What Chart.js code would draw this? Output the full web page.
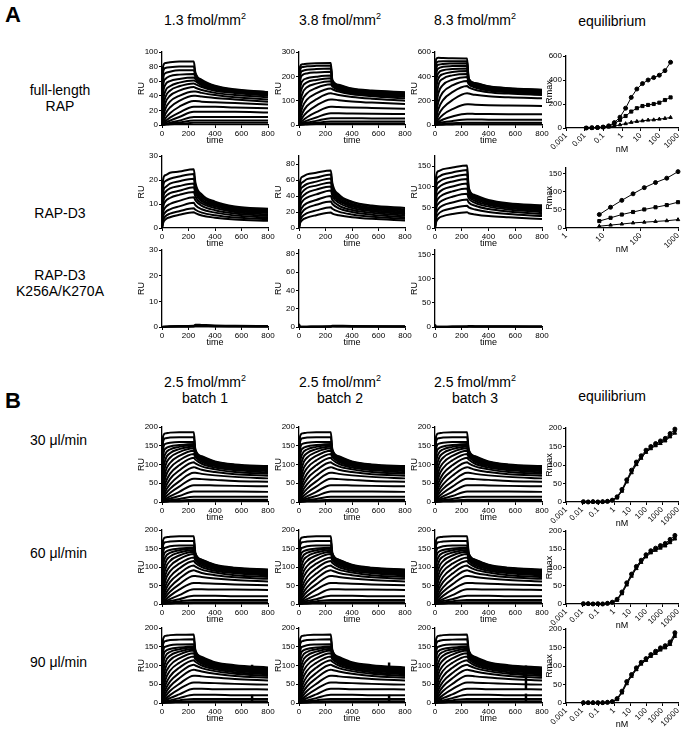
<!DOCTYPE html>
<html>
<head>
<meta charset="utf-8">
<script src="https://cdn.jsdelivr.net/npm/chart.js@4.4.1/dist/chart.umd.min.js"></script>
<style>
body{margin:0;width:683px;height:729px;background:#fff;position:relative;overflow:hidden;font-family:"Liberation Sans",Arial,sans-serif;color:#000}
.t{position:absolute;white-space:nowrap;font-size:14px;line-height:16px;text-align:center;width:140px}
.l{position:absolute;white-space:nowrap;font-size:14px;line-height:16px}
.big{position:absolute;font-size:22px;font-weight:bold}
sup{font-size:9px;line-height:0;vertical-align:6px}
canvas{position:absolute}
</style>
</head>
<body>
<div class="big" style="left:5px;top:2px">A</div>
<div class="t" style="left:135px;top:12px">1.3 fmol/mm<sup>2</sup></div>
<div class="t" style="left:270px;top:12px">3.8 fmol/mm<sup>2</sup></div>
<div class="t" style="left:405px;top:12px">8.3 fmol/mm<sup>2</sup></div>
<div class="t" style="left:542px;top:13px">equilibrium</div>
<div class="t" style="left:-10px;top:82px">full-length<br>RAP</div>
<div class="t" style="left:-10px;top:205px">RAP-D3</div>
<div class="t" style="left:-10px;top:267px">RAP-D3<br>K256A/K270A</div>

<div class="big" style="left:5px;top:388px">B</div>
<div class="t" style="left:135px;top:374px">2.5 fmol/mm<sup>2</sup><br>batch 1</div>
<div class="t" style="left:270px;top:374px">2.5 fmol/mm<sup>2</sup><br>batch 2</div>
<div class="t" style="left:405px;top:374px">2.5 fmol/mm<sup>2</sup><br>batch 3</div>
<div class="t" style="left:542px;top:388px">equilibrium</div>
<div class="l" style="left:30px;top:432px">30 μl/min</div>
<div class="l" style="left:30px;top:545px">60 μl/min</div>
<div class="l" style="left:30px;top:654px">90 μl/min</div>

<script>
// sampling times of every sensorgram curve (s)
const TIME = [0, 8, 25, 60, 130, 240, 252, 300, 400, 550, 800];
const TIME_TICKS = [0, 200, 400, 600, 800];

// A, full-length RAP
const A1_13 = [
  [0, 80, 85, 86, 87, 87, 72, 62, 54, 49, 45],
  [0, 72, 78, 79, 80, 80, 70, 61, 53, 48, 45],
  [0, 62, 71, 73, 75, 75, 68, 60, 52, 48, 44],
  [0, 52, 63, 67, 69, 70, 66, 58, 51, 47, 43],
  [0, 40, 55, 60, 63, 65, 63, 56, 50, 46, 42],
  [0, 30, 46, 53, 58, 61, 60, 54, 49, 45, 41],
  [0, 22, 38, 47, 53, 57, 56, 52, 47, 44, 40],
  [0, 15, 30, 40, 47, 52, 51, 48, 44, 41, 38],
  [0, 10, 22, 32, 40, 46, 46, 44, 41, 38, 35],
  [0, 6, 15, 24, 33, 40, 40, 39, 37, 35, 32],
  [0, 3, 9, 16, 25, 33, 33, 32, 31, 30, 28],
  [0, 2, 5, 10, 17, 25, 25, 25, 25, 24, 23],
  [0, 1, 3, 6, 11, 18, 18, 18, 18, 18, 17],
  [0, 0.5, 1.5, 3, 6, 11, 11, 11, 11, 11, 11],
  [0, 0.3, 1, 2, 3.5, 6, 6, 6, 6, 6, 6],
  [0, 0.2, 0.5, 1, 1.5, 3, 3, 3, 3, 3, 3]
];
const A1_38 = [
  [0, 240, 250, 252, 254, 255, 185, 165, 150, 142, 135],
  [0, 225, 238, 241, 243, 244, 182, 163, 148, 140, 133],
  [0, 200, 222, 227, 230, 232, 178, 160, 146, 138, 131],
  [0, 175, 205, 212, 216, 219, 174, 157, 144, 136, 129],
  [0, 140, 180, 192, 198, 203, 170, 154, 141, 133, 126],
  [0, 110, 155, 175, 185, 192, 167, 151, 138, 130, 123],
  [0, 80, 128, 155, 170, 180, 163, 148, 135, 127, 120],
  [0, 55, 100, 130, 152, 167, 158, 144, 131, 123, 116],
  [0, 35, 72, 104, 130, 150, 147, 137, 126, 118, 110],
  [0, 20, 48, 78, 105, 130, 129, 123, 115, 108, 100],
  [0, 12, 30, 52, 80, 105, 105, 102, 97, 92, 86],
  [0, 7, 17, 32, 53, 75, 75, 74, 72, 70, 67],
  [0, 4, 10, 18, 31, 48, 48, 48, 47, 46, 45],
  [0, 2, 5, 10, 17, 28, 28, 28, 28, 27, 27],
  [0, 1, 3, 5, 9, 14, 14, 14, 14, 14, 14],
  [0, 0.5, 1, 2, 4, 6, 6, 6, 6, 6, 6]
];
const A1_83 = [
  [0, 540, 552, 550, 548, 546, 380, 345, 318, 302, 290],
  [0, 500, 522, 524, 525, 525, 376, 342, 316, 300, 288],
  [0, 450, 495, 502, 505, 507, 372, 339, 313, 298, 285],
  [0, 400, 465, 478, 484, 487, 368, 336, 310, 295, 282],
  [0, 330, 425, 450, 460, 465, 363, 332, 306, 291, 278],
  [0, 260, 380, 418, 436, 443, 358, 328, 302, 287, 274],
  [0, 190, 325, 380, 408, 420, 352, 323, 298, 283, 270],
  [0, 130, 260, 330, 372, 395, 345, 317, 292, 277, 264],
  [0, 85, 190, 270, 325, 362, 335, 308, 284, 270, 257],
  [0, 50, 130, 205, 270, 320, 310, 290, 270, 258, 246],
  [0, 28, 80, 140, 205, 260, 258, 248, 236, 228, 220],
  [0, 15, 45, 85, 130, 170, 170, 167, 163, 160, 156],
  [0, 8, 24, 45, 70, 92, 92, 91, 90, 89, 88],
  [0, 4, 12, 22, 33, 45, 45, 45, 44, 44, 44],
  [0, 2, 5, 9, 14, 18, 18, 18, 18, 18, 18],
  [0, 1, 2, 3, 5, 7, 7, 7, 7, 7, 7]
];

// A, RAP-D3
const A2_13 = [
  [0, 20, 22, 23, 23.5, 24.5, 19, 14, 11, 9, 8],
  [0, 17, 19.5, 20.5, 21.5, 22.5, 17.5, 13.5, 10.5, 8.5, 7.5],
  [0, 14.5, 17, 18.5, 19.5, 20.5, 16.5, 12.8, 10, 8, 7],
  [0, 12, 15, 16.5, 17.5, 18.5, 15.5, 12, 9.5, 7.6, 6.6],
  [0, 10, 13, 14.5, 15.5, 17, 14.5, 11.2, 9, 7.2, 6.2],
  [0, 8, 11, 12.5, 13.8, 15, 13, 10.3, 8.3, 6.7, 5.6],
  [0, 6, 8.5, 10, 11.3, 12.8, 11.5, 9.2, 7.4, 6, 5],
  [0, 4.5, 6.5, 7.8, 9, 10.5, 9.5, 7.8, 6.4, 5.2, 4.4],
  [0, 3, 4.8, 6, 7, 8.2, 7.6, 6.4, 5.3, 4.4, 3.7],
  [0, 2, 3.5, 4.5, 5.5, 6.6, 6.2, 5.2, 4.3, 3.5, 3]
];
const A2_38 = [
  [0, 58, 64, 67, 69, 72, 56, 42, 33, 28, 25],
  [0, 50, 57, 61, 63, 67, 53, 40, 32, 27, 23.5],
  [0, 43, 51, 55, 58, 62, 50, 38, 30, 25.5, 22],
  [0, 36, 45, 50, 53, 57, 47, 36, 28.5, 24, 20.5],
  [0, 30, 39, 44, 48, 52, 44, 34, 27, 22.5, 19],
  [0, 24, 33, 38, 42, 47, 40, 31.5, 25, 21, 17.5],
  [0, 18, 26, 31, 35, 40, 35, 28, 22.5, 19, 15.5],
  [0, 13, 20, 25, 29, 33, 30, 24.5, 20, 16.5, 13.5],
  [0, 9, 14.5, 18.5, 22, 26, 24, 20.5, 17, 14, 11.5],
  [0, 6, 10, 13, 16, 19.5, 18, 16, 13.5, 11.5, 9.5]
];
const A2_83 = [
  [0, 125, 138, 143, 147, 152, 98, 80, 68, 60, 55],
  [0, 110, 124, 130, 135, 141, 95, 78, 66, 58, 52],
  [0, 96, 111, 118, 124, 130, 92, 76, 64, 56, 50],
  [0, 82, 98, 106, 113, 119, 89, 73, 62, 54, 47.5],
  [0, 68, 85, 94, 101, 108, 85, 70, 59, 51, 45],
  [0, 55, 72, 81, 89, 96, 80, 66, 56, 48.5, 42],
  [0, 43, 59, 68, 76, 83, 72, 61, 52, 45, 38.5],
  [0, 32, 46, 55, 62, 69, 62, 54, 46, 40, 34],
  [0, 22, 34, 42, 48, 54, 50, 45, 39, 34, 29],
  [0, 14, 23, 29, 34, 38, 36, 33, 29, 26, 22]
];

// A, RAP-D3 K256A/K270A (no binding)
const A3_13 = [
  [0, 0.1, 0.2, 0.3, 0.4, 0.5, 0.9, 0.8, 0.6, 0.5, 0.4],
  [0, 0.1, 0.1, 0.2, 0.3, 0.3, 0.6, 0.5, 0.4, 0.3, 0.3],
  [0, 0, 0, 0.1, 0.1, 0.2, 0.3, 0.3, 0.2, 0.2, 0.1]
];
const A3_38 = [
  [3.5, 0.5, 0.3, 0.4, 0.6, 0.8, 1.4, 1.3, 1.1, 0.9, 0.8],
  [2, 0.3, 0.2, 0.3, 0.4, 0.5, 1, 0.9, 0.8, 0.7, 0.6],
  [0, 0.1, 0.1, 0.1, 0.2, 0.3, 0.5, 0.5, 0.4, 0.4, 0.3]
];
const A3_83 = [
  [5, 1, 0.5, 0.6, 0.9, 1.2, 2, 1.8, 1.5, 1.3, 1.1],
  [3, 0.6, 0.4, 0.4, 0.6, 0.8, 1.4, 1.2, 1, 0.9, 0.8],
  [0, 0.2, 0.2, 0.2, 0.3, 0.4, 0.7, 0.6, 0.5, 0.5, 0.4]
];

// B, 2.5 fmol/mm2, three flow rates (batches look alike)
const B_30 = [
  [0, 175, 183, 185, 186, 186, 140, 122, 108, 100, 96],
  [0, 160, 170, 172, 173, 173, 138, 121, 107, 99, 95],
  [0, 140, 155, 158, 160, 160, 136, 119, 106, 98, 94],
  [0, 118, 142, 148, 152, 155, 134, 118, 105, 97, 92],
  [0, 95, 128, 140, 147, 152, 132, 116, 104, 96, 91],
  [0, 75, 112, 130, 141, 148, 130, 115, 103, 95, 89],
  [0, 58, 96, 118, 133, 143, 128, 113, 101, 93, 87],
  [0, 44, 80, 104, 123, 137, 125, 111, 99, 91, 85],
  [0, 33, 65, 90, 111, 128, 120, 107, 96, 88, 82],
  [0, 24, 50, 75, 98, 118, 113, 102, 92, 85, 79],
  [0, 17, 38, 61, 84, 106, 103, 95, 87, 80, 75],
  [0, 12, 28, 47, 70, 93, 92, 86, 80, 74, 70],
  [0, 8, 20, 35, 55, 78, 78, 75, 71, 67, 63],
  [0, 5, 13, 24, 41, 62, 62, 61, 59, 56, 54],
  [0, 3, 8, 15, 27, 45, 45, 45, 44, 43, 42],
  [0, 2, 5, 9, 16, 28, 28, 28, 28, 28, 27],
  [0, 1, 2.5, 5, 8, 14, 14, 14, 14, 14, 14],
  [0, 0.5, 1.2, 2.5, 4, 6, 6, 6, 6, 6, 6],
  [0, 0.2, 0.5, 1, 1.5, 2.5, 2.5, 2.5, 2.5, 2.5, 2.5]
];
const B_60 = [
  [0, 172, 180, 182, 183, 183, 138, 120, 106, 98, 93],
  [0, 158, 167, 169, 170, 170, 136, 119, 105, 97, 92],
  [0, 138, 152, 156, 158, 158, 134, 117, 104, 96, 91],
  [0, 116, 140, 146, 150, 152, 132, 116, 103, 95, 90],
  [0, 93, 126, 138, 145, 150, 130, 114, 102, 94, 88],
  [0, 73, 110, 128, 139, 146, 128, 113, 101, 93, 87],
  [0, 56, 94, 116, 131, 141, 126, 111, 99, 91, 85],
  [0, 42, 78, 102, 121, 135, 123, 109, 97, 89, 83],
  [0, 31, 63, 88, 109, 126, 118, 105, 94, 86, 80],
  [0, 22, 48, 73, 96, 116, 111, 100, 90, 83, 77],
  [0, 15, 36, 59, 82, 104, 101, 93, 85, 78, 73],
  [0, 10, 26, 45, 68, 91, 90, 84, 78, 72, 68],
  [0, 7, 18, 33, 53, 76, 76, 73, 69, 65, 61],
  [0, 4, 11, 22, 39, 57, 57, 56, 55, 53, 51],
  [0, 3, 7, 13, 24, 40, 40, 40, 39, 39, 38],
  [0, 1.5, 4, 8, 13, 22, 22, 22, 22, 21, 21],
  [0, 1, 2, 4, 7, 11, 11, 11, 11, 11, 11],
  [0, 0.5, 1, 2, 3, 5, 5, 5, 5, 5, 5],
  [0, 0.2, 0.4, 0.8, 1.2, 2, 2, 2, 2, 2, 2]
];
const B_90 = [
  [0, 170, 179, 181, 182, 183, 141, 123, 109, 101, 95],
  [0, 156, 165, 168, 169, 170, 139, 121, 107, 99, 93],
  [0, 136, 150, 154, 156, 157, 137, 119, 106, 98, 92],
  [0, 114, 138, 144, 148, 151, 135, 118, 105, 97, 90],
  [0, 92, 124, 136, 143, 149, 133, 116, 103, 95, 88],
  [0, 72, 108, 126, 137, 145, 130, 114, 101, 93, 86],
  [0, 55, 92, 114, 129, 140, 127, 112, 99, 91, 84],
  [0, 41, 76, 100, 119, 133, 123, 109, 97, 89, 82],
  [0, 30, 61, 86, 107, 124, 117, 105, 94, 86, 79],
  [0, 21, 47, 71, 94, 114, 110, 100, 90, 82, 76],
  [0, 15, 35, 57, 80, 102, 100, 93, 85, 78, 72],
  [0, 10, 25, 44, 66, 89, 88, 84, 78, 72, 67],
  [0, 7, 17, 32, 51, 73, 73, 71, 68, 64, 60],
  [0, 4, 11, 21, 37, 55, 55, 54, 53, 51, 49],
  [0, 3, 7, 13, 23, 38, 38, 38, 37, 37, 36],
  [0, 1.5, 4, 7, 13, 22, 22, 22, 22, 21, 21],
  [0, 1, 2, 4, 7, 11, 11, 11, 11, 11, 11],
  [0, 0.5, 1, 2, 3, 5, 5, 5, 5, 5, 5],
  [0, 0.2, 0.4, 0.8, 1.2, 2, 2, 2, 2, 2, 2]
];
// injection spikes seen at ~680 s in the 90 ul/min runs (low, high RU) per batch
const SPIKE_T = 680;
const B_90_SPIKES = [
  [[75, 102], [2, 22]],
  [[72, 108], [2, 22]],
  [[35, 100], [2, 25]]
];

// equilibrium Rmax vs concentration (nM)
const EQ_A1_NM = [0.0122, 0.0244, 0.0488, 0.0977, 0.195, 0.39, 0.78, 1.56, 3.13, 6.25, 12.5, 25, 50, 100, 200, 400];
const EQ_A1_83 = [0, 2, 4, 8, 18, 45, 90, 165, 255, 325, 370, 400, 420, 440, 478, 548];
const EQ_A1_38 = [0, 2, 4, 7, 15, 35, 68, 100, 137, 165, 183, 192, 200, 211, 233, 255];
const EQ_A1_13 = [0, 1, 2, 4, 8, 15, 27, 36, 47, 55, 60, 66, 68, 74, 80, 88];

const EQ_A2_NM = [7.8, 15.6, 31.25, 62.5, 125, 250, 500, 1000];
const EQ_A2_83 = [37, 57, 76, 94, 111, 125, 137, 155];
const EQ_A2_38 = [19, 28, 37, 44, 51, 57, 63, 71];
const EQ_A2_13 = [5, 8, 11, 14, 16, 18, 20, 23];

const EQ_B_NM = [0.0122, 0.0244, 0.0488, 0.0977, 0.195, 0.39, 0.78, 1.56, 3.13, 6.25, 12.5, 25, 50, 100, 200, 400, 800, 1600, 3200, 6400];
const EQ_B30_1 = [1, 0, 1, 0, 1, 2, 5, 14, 34, 60, 86, 108, 125, 140, 150, 158, 165, 172, 185, 197];
const EQ_B30_2 = [0, 1, 0, 1, 0, 1, 4, 12, 31, 57, 82, 104, 121, 137, 147, 155, 162, 168, 180, 192];
const EQ_B30_3 = [0, 0, 1, 0, 1, 1, 4, 11, 29, 54, 79, 101, 118, 134, 144, 152, 158, 165, 176, 186];
const EQ_B60_1 = [1, 1, 0, 1, 0, 2, 5, 13, 33, 58, 82, 103, 120, 135, 146, 153, 160, 166, 177, 188];
const EQ_B60_2 = [0, 0, 1, 0, 1, 1, 4, 12, 30, 55, 79, 100, 117, 132, 143, 150, 156, 162, 172, 182];
const EQ_B60_3 = [0, 1, 0, 0, 0, 1, 3, 10, 28, 52, 76, 97, 114, 129, 140, 147, 153, 159, 168, 178];
const EQ_B90_1 = [1, 1, 1, 1, 1, 2, 4, 12, 32, 58, 77, 95, 110, 120, 131, 140, 149, 155, 165, 190];
const EQ_B90_2 = [0, 1, 0, 1, 0, 1, 3, 10, 29, 55, 74, 92, 107, 117, 128, 137, 146, 152, 161, 184];
const EQ_B90_3 = [1, 0, 1, 0, 1, 1, 3, 9, 27, 52, 72, 90, 105, 115, 126, 134, 143, 149, 158, 180];

const FONT = '"Liberation Sans", Arial, sans-serif';
Chart.defaults.font.family = FONT;
Chart.defaults.color = '#000';

function addCanvas(left, top, w, h) {
    const cv = document.createElement('canvas');
    cv.width = w; cv.height = h;
    cv.style.left = left + 'px'; cv.style.top = top + 'px';
    cv.style.width = w + 'px'; cv.style.height = h + 'px';
    document.body.appendChild(cv);
    return cv;
}

function yAxis(max, ticks, title, yw) {
    return {
        type: 'linear', min: 0, max: max,
        afterBuildTicks: s => { s.ticks = ticks.map(v => ({ value: v })); },
        afterFit: s => { s.width = yw; s.paddingTop = 0; s.paddingBottom = 0; },
        ticks: { font: { size: 8 }, color: '#000', padding: 1 },
        grid: { drawOnChartArea: false, tickLength: 3, color: '#000' },
        border: { color: '#000', width: 1.3 },
        title: { display: true, text: title, font: { size: 9 }, color: '#000', padding: { top: 0, bottom: 0 } }
    };
}

// box = [left, right, top, bottom] of the plot area in page pixels
function sensorgram(box, curves, yMax, yTicks, spikes) {
    const YW = 26, PT = 6, PR = 10, XH = 21;
    const w = box[1] - box[0] + YW + PR, h = box[3] - box[2] + PT + XH;
    const cv = addCanvas(box[0] - YW, box[2] - PT, w, h);
    const sets = curves.map(c => ({
        data: c.map((v, i) => ({ x: TIME[i], y: v })),
        borderColor: '#000', borderWidth: 2, pointRadius: 0,
        cubicInterpolationMode: 'monotone', fill: false, clip: false
    }));
    (spikes || []).forEach(s => sets.push({
        data: s.map(v => ({ x: SPIKE_T, y: v })),
        borderColor: '#000', borderWidth: 2.5, pointRadius: 0, fill: false, clip: false
    }));
    new Chart(cv, {
        type: 'line',
        data: { datasets: sets },
        options: {
            responsive: false, animation: false, events: [],
            layout: { padding: { top: PT, right: PR, left: 0, bottom: 0 } },
            plugins: { legend: { display: false }, tooltip: { enabled: false } },
            scales: {
                x: {
                    type: 'linear', min: 0, max: 800,
                    afterBuildTicks: s => { s.ticks = TIME_TICKS.map(v => ({ value: v })); },
                    afterFit: s => { s.height = XH; s.paddingLeft = 0; s.paddingRight = 0; },
                    ticks: { font: { size: 8 }, color: '#000', maxRotation: 0, padding: 1 },
                    grid: { drawOnChartArea: false, tickLength: 3, color: '#000' },
                    border: { color: '#000', width: 1.3 },
                    title: { display: true, text: 'time', font: { size: 9 }, color: '#000', padding: 0 }
                },
                y: yAxis(yMax, yTicks, 'RU', YW)
            }
        }
    });
}

function equilibrium(box, conc, series, yMax, yTicks, xMin, xMax, xTicks) {
    const YW = 22, PT = 6, PR = 6, XH = 27;
    const w = box[1] - box[0] + YW + PR, h = box[3] - box[2] + PT + XH;
    const cv = addCanvas(box[0] - YW, box[2] - PT, w, h);
    new Chart(cv, {
        type: 'line',
        data: {
            datasets: series.map(s => ({
                data: conc.map((c, i) => ({ x: c, y: s.vals[i] })),
                borderColor: '#000', borderWidth: 1, tension: 0,
                pointStyle: s.style, pointRadius: s.r || 2,
                pointBackgroundColor: '#000', pointBorderColor: '#000', pointBorderWidth: 1,
                fill: false, clip: false
            }))
        },
        options: {
            responsive: false, animation: false, events: [],
            layout: { padding: { top: PT, right: PR, left: 0, bottom: 0 } },
            plugins: { legend: { display: false }, tooltip: { enabled: false } },
            scales: {
                x: {
                    type: 'logarithmic', min: xMin, max: xMax,
                    afterBuildTicks: s => { s.ticks = xTicks.map(v => ({ value: v })); },
                    afterFit: s => { s.height = XH; s.paddingLeft = 0; s.paddingRight = 0; },
                    ticks: { font: { size: 8 }, color: '#000', minRotation: 45, maxRotation: 45, autoSkip: false, padding: 0, callback: v => String(v) },
                    grid: { drawOnChartArea: false, tickLength: 3, color: '#000' },
                    border: { color: '#000', width: 1.3 },
                    title: { display: true, text: 'nM', font: { size: 9 }, color: '#000', padding: 0 }
                },
                y: yAxis(yMax, yTicks, 'Rmax', YW)
            }
        }
    });
}

const COLS = [[162, 268], [299, 405], [435, 542]];
const EQX = [566, 678];

// A
sensorgram([...COLS[0], 52, 125], A1_13, 100, [0, 20, 40, 60, 80, 100]);
sensorgram([...COLS[1], 52, 125], A1_38, 300, [0, 100, 200, 300]);
sensorgram([...COLS[2], 52, 125], A1_83, 600, [0, 200, 400, 600]);
equilibrium([...EQX, 56, 128], EQ_A1_NM,
    [{ vals: EQ_A1_83, style: 'circle' }, { vals: EQ_A1_38, style: 'rect', r: 2.2 }, { vals: EQ_A1_13, style: 'triangle' }],
    600, [0, 200, 400, 600], 0.001, 1000, [0.001, 0.01, 0.1, 1, 10, 100, 1000]);

sensorgram([...COLS[0], 156, 228], A2_13, 30, [0, 10, 20, 30]);
sensorgram([...COLS[1], 156, 228], A2_38, 90, [0, 20, 40, 60, 80]);
sensorgram([...COLS[2], 156, 228], A2_83, 175, [0, 50, 100, 150]);
equilibrium([...EQX, 168, 228], EQ_A2_NM,
    [{ vals: EQ_A2_83, style: 'circle' }, { vals: EQ_A2_38, style: 'rect', r: 2.2 }, { vals: EQ_A2_13, style: 'triangle' }],
    165, [0, 50, 100, 150], 1, 1000, [1, 10, 100, 1000]);

sensorgram([...COLS[0], 250, 327], A3_13, 30, [0, 10, 20, 30]);
sensorgram([...COLS[1], 250, 327], A3_38, 84, [0, 20, 40, 60, 80]);
sensorgram([...COLS[2], 250, 327], A3_83, 160, [0, 50, 100, 150]);

// B
const B_ROWS = [[427, 502, B_30, [EQ_B30_1, EQ_B30_2, EQ_B30_3], null],
                [530, 604, B_60, [EQ_B60_1, EQ_B60_2, EQ_B60_3], null],
                [628, 703, B_90, [EQ_B90_1, EQ_B90_2, EQ_B90_3], B_90_SPIKES]];
B_ROWS.forEach(r => {
    COLS.forEach((c, k) => sensorgram([...c, r[0], r[1]], r[2], 200, [0, 50, 100, 150, 200], r[4] ? r[4][k] : null));
    equilibrium([...EQX, r[0] + 1, r[1]], EQ_B_NM,
        [{ vals: r[3][0], style: 'circle' }, { vals: r[3][1], style: 'rect', r: 1.8 }, { vals: r[3][2], style: 'triangle' }],
        200, [0, 50, 100, 150, 200], 0.001, 10000, [0.001, 0.01, 0.1, 1, 10, 100, 1000, 10000]);
});
</script>
</body>
</html>
